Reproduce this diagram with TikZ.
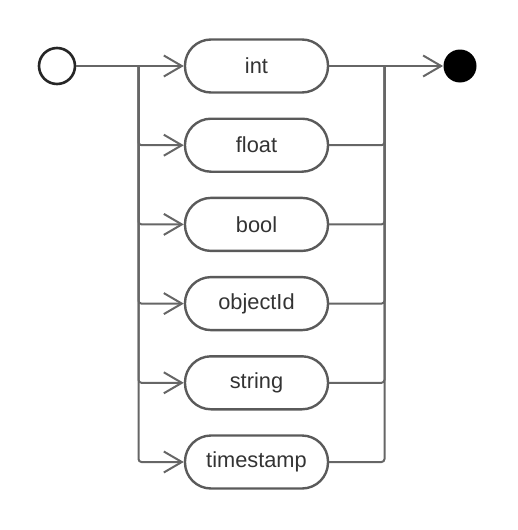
\documentclass[tikz,border=0pt]{standalone}
\usepackage{fontspec}
\setmainfont{Liberation Sans}
\usetikzlibrary{arrows.meta}
\definecolor{linegray}{HTML}{666666}
\definecolor{boxgray}{HTML}{5A5A5A}
\definecolor{startgray}{HTML}{262626}
\definecolor{textgray}{HTML}{333333}

\begin{document}
\begin{tikzpicture}[x=0.5pt,y=-0.5pt,
    typebox/.style={draw=boxgray,line width=1.2pt,rounded corners=13pt,minimum width=71.5pt,minimum height=26.5pt,text=textgray,font=\fontsize{10.9}{12}\selectfont},
    flow/.style={draw=linegray,line width=1pt,rounded corners=1.5pt},
    tip/.style={-{Straight Barb[length=9pt,width=10.5pt]}}]
    \useasboundingbox (0,0) rectangle (518,530);
    \node[circle,draw=startgray,line width=1.3pt,minimum size=18pt,inner sep=0pt] (start) at (57,66) {};
    \node[circle,fill=black,minimum size=16.5pt,inner sep=0pt] (end) at (460,66) {};
    \node[typebox] (int) at (256.5,66) {int};
    \node[typebox] (float) at (256.5,145.2) {float};
    \node[typebox] (bool) at (256.5,224.4) {bool};
    \node[typebox] (objectId) at (256.5,303.6) {objectId};
    \node[typebox] (string) at (256.5,382.8) {string};
    \node[typebox] (timestamp) at (256.5,462) {timestamp};
    \coordinate (split) at (138.5,66);
    \coordinate (join) at (384.5,66);
    \draw[flow] (start) -- (split);
    \draw[flow,tip] (split) -- (int);
    \draw[flow,tip] (split) |- (float);
    \draw[flow,tip] (split) |- (bool);
    \draw[flow,tip] (split) |- (objectId);
    \draw[flow,tip] (split) |- (string);
    \draw[flow,tip] (split) |- (timestamp);
    \draw[flow] (int) -- (join);
    \draw[flow] (float) -| (join);
    \draw[flow] (bool) -| (join);
    \draw[flow] (objectId) -| (join);
    \draw[flow] (string) -| (join);
    \draw[flow] (timestamp) -| (join);
    \draw[flow,tip] (join) -- (end);
\end{tikzpicture}
\end{document}
